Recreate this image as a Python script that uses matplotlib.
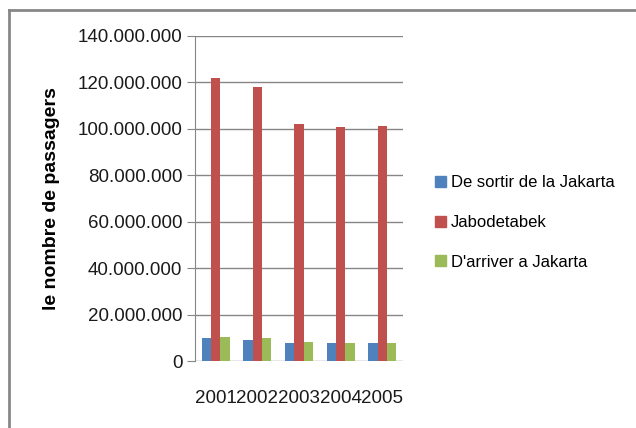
import matplotlib
matplotlib.use("Agg")
import matplotlib.pyplot as plt
import matplotlib.lines as mlines
import matplotlib.patches as mpatches
import numpy as np

annees = ["2001", "2002", "2003", "2004", "2005"]
sortir_jakarta = [10.0e6, 9.0e6, 7.6e6, 7.6e6, 7.6e6]
jabodetabek = [121.8e6, 117.9e6, 102.1e6, 100.8e6, 101.2e6]
arriver_jakarta = [10.5e6, 10.0e6, 8.2e6, 7.6e6, 7.6e6]

series = [
    ("De sortir de la Jakarta", sortir_jakarta, "#4F81BD"),
    ("Jabodetabek", jabodetabek, "#C0504D"),
    ("D'arriver a Jakarta", arriver_jakarta, "#9BBB59"),
]

plt.rcParams["font.family"] = ["Liberation Sans", "DejaVu Sans"]

fig = plt.figure(figsize=(6.36, 4.28), dpi=100)
ax = fig.add_axes([195 / 636, 1 - 361 / 428, 208 / 636, 325 / 428])

x = np.arange(len(annees))
largeur = 0.223
for i, (nom, valeurs, couleur) in enumerate(series):
    ax.bar(x + (i - 1) * largeur, valeurs, largeur, color=couleur, label=nom, zorder=3)

ax.set_xlim(-0.5, len(annees) - 0.5)
ax.set_ylim(0, 140e6)
ax.set_yticks(np.arange(0, 140e6 + 1, 20e6))
ax.set_yticklabels(["0"] + ["{:,.0f}".format(v).replace(",", ".") for v in np.arange(20e6, 140e6 + 1, 20e6)])
ax.set_xticks(x)
ax.set_xticklabels(annees)

ax.grid(axis="y", color="#868686", linewidth=1, zorder=0)
for cote in ["top", "right", "bottom"]:
    ax.spines[cote].set_visible(False)
ax.spines["left"].set_color("#868686")
ax.tick_params(axis="y", length=6, color="#868686", labelsize=13.5, pad=3)
ax.tick_params(axis="x", length=0, labelsize=13.5, pad=21)
for lab in ax.get_xticklabels() + ax.get_yticklabels():
    lab.set_color("#1a1a1a")

ax.set_ylabel("le nombre de passagers", fontsize=14, fontweight="bold", labelpad=13)

# cadre du graphique (haut et gauche)
fig.add_artist(mlines.Line2D([9 / 636, 1], [1 - 9.5 / 428, 1 - 9.5 / 428], color="#878787", linewidth=2))
fig.add_artist(mlines.Line2D([9 / 636, 9 / 636], [0, 1 - 9.5 / 428], color="#878787", linewidth=2))

poignees = [mpatches.Patch(color=c, label=n) for n, _, c in series]
fig.legend(handles=poignees, loc="upper left", bbox_to_anchor=(0.674, 0.606),
           frameon=False, fontsize=12, handlelength=0.65, handleheight=0.65,
           handletextpad=0.3, labelspacing=1.48, borderaxespad=0)

fig.savefig("out.png", dpi=100)
